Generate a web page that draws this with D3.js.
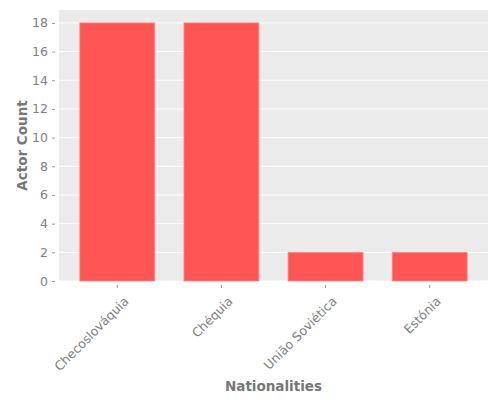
<!DOCTYPE html>
<html>
<head>
<meta charset="utf-8">
<script src="https://cdn.jsdelivr.net/npm/d3@7"></script>
<style>
  body { margin: 0; background: #fff; }
  svg text { font-family: "DejaVu Sans", sans-serif; }
</style>
</head>
<body>
<svg id="chart" width="500" height="400"></svg>
<script>
const nationalities = ["Checoslováquia", "Chéquia", "União Soviética", "Estónia"];
const actorCounts = [18, 18, 2, 2];
const yTicks = [0, 2, 4, 6, 8, 10, 12, 14, 16, 18];

const width = 500, height = 400;
const margin = { top: 10, right: 12, bottom: 119, left: 59 };
const svg = d3.select("#chart");
const innerW = width - margin.left - margin.right;
const innerH = height - margin.top - margin.bottom;

const g = svg.append("g").attr("transform", `translate(${margin.left},${margin.top})`);

const x = d3.scaleBand().domain(nationalities).range([0, innerW])
  .paddingInner(0.28).paddingOuter(0.2);
const y = d3.scaleLinear().domain([0, 18.9]).range([innerH, 0]);

g.append("rect").attr("width", innerW).attr("height", innerH).attr("fill", "#EBEBEB");

// grid
g.selectAll(".grid").data(yTicks).enter().append("line")
  .attr("x1", 0).attr("x2", innerW)
  .attr("y1", d => y(d)).attr("y2", d => y(d))
  .attr("stroke", "#fff").attr("stroke-width", 1);

// bars
g.selectAll(".bar").data(actorCounts).enter().append("rect")
  .attr("x", (d, i) => x(nationalities[i]))
  .attr("y", d => y(d))
  .attr("width", x.bandwidth())
  .attr("height", d => y(0) - y(d))
  .attr("fill", "#FF5555")
  .attr("stroke", "#FF8A8A").attr("stroke-width", 0.8);

// y axis
const yAxis = g.append("g").attr("transform", "translate(-4,0)")
  .attr("font-family", "DejaVu Sans")
  .call(d3.axisLeft(y).tickValues(yTicks).tickSize(3).tickPadding(4));
yAxis.select(".domain").remove();
yAxis.selectAll("line").attr("stroke", "#999");
yAxis.selectAll("text").attr("fill", "#808080").style("font-size", "12.5px");

// x axis
const xAxis = g.append("g").attr("transform", `translate(0,${innerH + 4})`)
  .attr("font-family", "DejaVu Sans")
  .call(d3.axisBottom(x).tickSize(3).tickPadding(4));
xAxis.select(".domain").remove();
xAxis.selectAll("line").attr("stroke", "#999");
xAxis.selectAll("text").attr("fill", "#808080").style("font-size", "12.5px")
  .attr("text-anchor", "end")
  .attr("dy", "0.35em")
  .attr("transform", "translate(4,9) rotate(-45)");

// titles
svg.append("text").attr("x", margin.left + innerW / 2).attr("y", 391)
  .attr("text-anchor", "middle").attr("fill", "#777")
  .style("font-size", "13.5px").style("font-weight", "bold").text("Nationalities");
svg.append("text").attr("transform", `translate(27,${margin.top + innerH / 2}) rotate(-90)`)
  .attr("text-anchor", "middle").attr("fill", "#777")
  .style("font-size", "13.5px").style("font-weight", "bold").text("Actor Count");
</script>
</body>
</html>
